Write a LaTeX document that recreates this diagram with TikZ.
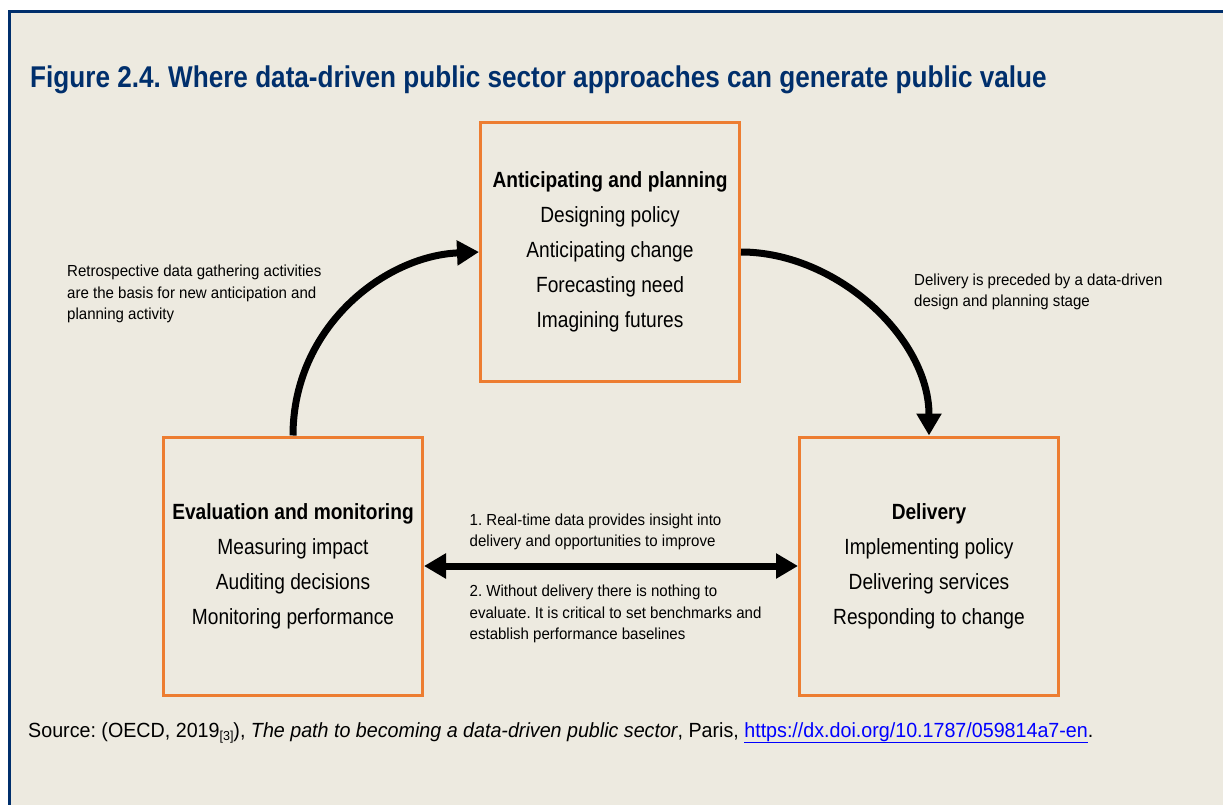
\documentclass[tikz,border=0pt]{standalone}
\usepackage{fontspec}
\setmainfont{Liberation Sans}
\newfontfamily\titlefont[FakeStretch=0.871]{Liberation Sans}
\newfontfamily\boxfont[FakeStretch=0.87]{Liberation Sans}
\newfontfamily\notefont[FakeStretch=0.94]{Liberation Sans}
\newfontfamily\srcfont[FakeStretch=0.96]{Liberation Sans}
\usetikzlibrary{arrows.meta}
\definecolor{bgbeige}{RGB}{237,234,224}
\definecolor{navy}{RGB}{0,47,108}
\definecolor{boxorange}{RGB}{237,125,49}
\definecolor{linkblue}{RGB}{0,0,255}
\frenchspacing
\tikzset{
  stagebox/.style={draw=boxorange,line width=3pt,minimum width=259pt,minimum height=258pt,
    inner sep=0pt,align=center,font=\boxfont\fontsize{22}{35}\selectfont},
  note/.style={anchor=north west,inner sep=0pt,align=left,
    font=\notefont\fontsize{16}{21.5}\selectfont},
  flow/.style={line width=7pt,-{Triangle[length=22pt,width=24pt]}},
  twoway/.style={line width=7pt,{Triangle[length=22pt,width=24pt]}-{Triangle[length=22pt,width=24pt]}},
}
\begin{document}
\begin{tikzpicture}[x=1pt,y=-1pt]
\useasboundingbox (0,0) rectangle (1223,805);
\fill[white] (0,0) rectangle (1223,805);
\fill[bgbeige] (8,10) rectangle (1223,805);
\draw[navy,line width=2.7pt] (9.6,805) -- (9.6,11.2) -- (1223,11.2);

\node[anchor=base west,inner sep=0pt,text=navy,font=\titlefont\bfseries\fontsize{30}{36}\selectfont] (title) at (30,88)
  {Figure 2.4. Where data-driven public sector approaches can generate public value};

\node[stagebox] (antic) at (610,252)
  {\textbf{Anticipating and planning}\\Designing policy\\Anticipating change\\Forecasting need\\Imagining futures};
\node[stagebox] (eval) at (293,566)
  {\textbf{Evaluation and monitoring}\\Measuring impact\\Auditing decisions\\Monitoring performance};
\node[stagebox] (deliv) at (929,566)
  {\textbf{Delivery}\\Implementing policy\\Delivering services\\Responding to change};

\draw[flow] (eval.north) .. controls +(0,-108) and +(-95,4) .. (antic.west);
\draw[flow] (antic.east) .. controls +(95,0) and +(0,-98) .. (deliv.north);
\draw[twoway] (eval.east) -- (deliv.west);

\node[note] (noteleft) at (67,265)
  {Retrospective data gathering activities\\are the basis for new anticipation and\\planning activity};
\node[note] (noteright) at (914,273.5)
  {Delivery is preceded by a data-driven\\design and planning stage};
\node[note] (noteone) at (469.5,513.5)
  {1. Real-time data provides insight into\\delivery and opportunities to improve};
\node[note] (notetwo) at (469.5,585)
  {2. Without delivery there is nothing to\\evaluate. It is critical to set benchmarks and\\establish performance baselines};

\node[anchor=base west,inner sep=0pt,font=\srcfont\fontsize{20.5}{24}\selectfont] (source) at (28,737)
  {Source: (OECD, 2019{\fontsize{13}{13}\selectfont\raisebox{-3pt}{[3]}}), \textit{The path to becoming a data-driven public sector}, Paris, \textcolor{linkblue}{\underline{https://dx.doi.org/10.1787/059814a7-en}}.};
\end{tikzpicture}
\end{document}
